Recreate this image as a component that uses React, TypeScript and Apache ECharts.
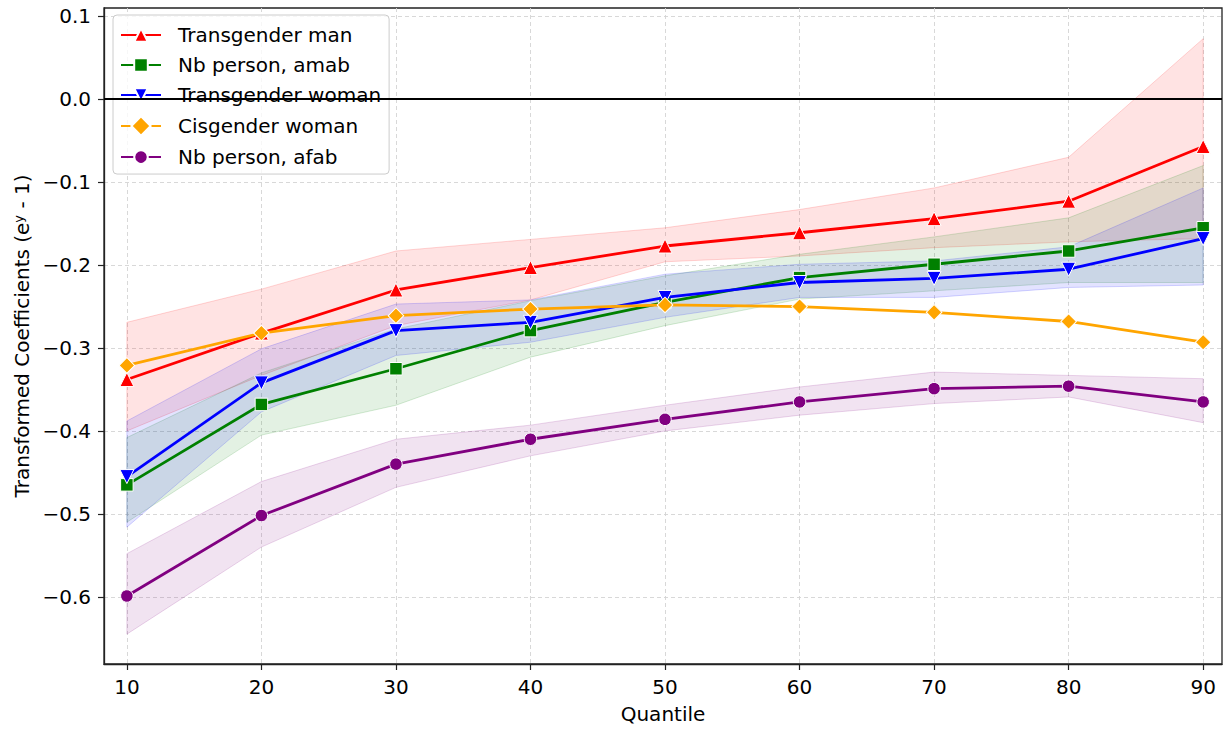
import React, { useEffect, useRef } from "react";
import * as echarts from "echarts";

const quantiles = [10, 20, 30, 40, 50, 60, 70, 80, 90];
const xTicks = [10, 20, 30, 40, 50, 60, 70, 80, 90];
const yTicks = [-0.6, -0.5, -0.4, -0.3, -0.2, -0.1, 0.0, 0.1];

const seriesNames = [
  "Transgender man",
  "Nb person, amab",
  "Transgender woman",
  "Cisgender woman",
  "Nb person, afab",
];

const transMan = [-0.338, -0.282, -0.23, -0.203, -0.177, -0.161, -0.144, -0.123, -0.057];
const nbAmab = [-0.465, -0.368, -0.325, -0.279, -0.245, -0.215, -0.199, -0.183, -0.155];
const transWoman = [-0.455, -0.342, -0.279, -0.269, -0.239, -0.221, -0.216, -0.205, -0.168];
const cisWoman = [-0.321, -0.282, -0.261, -0.253, -0.248, -0.25, -0.257, -0.268, -0.293];
const nbAfab = [-0.599, -0.502, -0.44, -0.41, -0.386, -0.365, -0.349, -0.346, -0.365];

const transManLo = [-0.4, -0.333, -0.273, -0.242, -0.196, -0.189, -0.179, -0.172, -0.168];
const transManHi = [-0.269, -0.229, -0.183, -0.169, -0.155, -0.133, -0.107, -0.07, 0.073];
const nbAmabLo = [-0.51, -0.405, -0.369, -0.311, -0.273, -0.241, -0.231, -0.221, -0.221];
const nbAmabHi = [-0.408, -0.33, -0.277, -0.243, -0.213, -0.187, -0.166, -0.143, -0.08];
const transWomanLo = [-0.516, -0.377, -0.309, -0.293, -0.263, -0.239, -0.239, -0.227, -0.224];
const transWomanHi = [-0.388, -0.301, -0.247, -0.242, -0.211, -0.199, -0.195, -0.178, -0.107];
const nbAfabLo = [-0.645, -0.54, -0.468, -0.43, -0.4, -0.381, -0.367, -0.359, -0.39];
const nbAfabHi = [-0.548, -0.461, -0.41, -0.393, -0.369, -0.347, -0.329, -0.333, -0.337];

const FONT = "DejaVu Sans";
const FS = 20;

function rgba(hex: string, a: number) {
  const n = parseInt(hex.slice(1), 16);
  return `rgba(${(n >> 16) & 255},${(n >> 8) & 255},${n & 255},${a})`;
}

export default function App() {
  const ref = useRef<HTMLDivElement>(null);
  useEffect(() => {
    document.body.style.margin = "0";
    const chart = echarts.init(ref.current!, undefined, { renderer: "svg" });

    const lines = [
      { name: seriesNames[0], data: transMan, color: "#ff0000", symbol: "triangle", size: 14, rot: 0 },
      { name: seriesNames[1], data: nbAmab, color: "#008000", symbol: "rect", size: 12.5, rot: 0 },
      { name: seriesNames[2], data: transWoman, color: "#0000ff", symbol: "triangle", size: 14, rot: 180 },
      { name: seriesNames[3], data: cisWoman, color: "#ffa500", symbol: "rect", size: 11, rot: 45 },
      { name: seriesNames[4], data: nbAfab, color: "#800080", symbol: "circle", size: 12.5, rot: 0 },
    ];
    const bands = [
      { key: "tm", lo: transManLo, hi: transManHi, color: "#ff0000" },
      { key: "am", lo: nbAmabLo, hi: nbAmabHi, color: "#008000" },
      { key: "tw", lo: transWomanLo, hi: transWomanHi, color: "#0000ff" },
      { key: "af", lo: nbAfabLo, hi: nbAfabHi, color: "#800080" },
    ];

    const series: any[] = [];
    bands.forEach((b, bi) => {
      series.push({
        type: "custom",
        name: "band-" + b.key,
        data: quantiles.map((q, i) => [q, b.lo[i], b.hi[i]]),
        encode: { x: 0, y: [1, 2] },
        silent: true,
        z: 1 + bi * 0.01,
        renderItem: (params: any, api: any) => {
          if (params.dataIndex !== 0) return { type: "group", children: [] };
          const top = quantiles.map((q, i) => api.coord([q, b.hi[i]]));
          const bot = quantiles.map((q, i) => api.coord([q, b.lo[i]])).reverse();
          return {
            type: "polygon",
            shape: { points: top.concat(bot) },
            style: { fill: rgba(b.color, 0.11), stroke: rgba(b.color, 0.16), lineWidth: 1 },
          };
        },
      });
    });
    lines.forEach((l, li) => {
      series.push({
        type: "line",
        name: l.name,
        data: quantiles.map((q, i) => [q, l.data[i]]),
        symbol: l.symbol,
        symbolSize: l.size,
        symbolRotate: l.rot,
        showAllSymbol: true,
        lineStyle: { width: 2.8, color: l.color },
        itemStyle: { color: l.color, borderColor: "#ffffff", borderWidth: 1 },
        z: 3 + li * 0.01,
        markLine:
          li === 0
            ? {
                silent: true,
                symbol: "none",
                label: { show: false },
                lineStyle: { color: "#000000", width: 2, type: "solid" },
                data: [{ yAxis: 0 }],
              }
            : undefined,
      });
    });

    chart.setOption({
      animation: false,
      textStyle: { fontFamily: FONT },
      grid: {
        left: 104,
        right: 4,
        top: 8,
        bottom: 65,
        outerBoundsMode: "none",
        containLabel: false,
        show: true,
        borderColor: "#222222",
        borderWidth: 1.3,
        backgroundColor: "transparent",
      },
      legend: {
        data: seriesNames,
        orient: "vertical",
        left: 113,
        top: 15,
        padding: [10, 8, 7, 7],
        itemGap: 10,
        itemWidth: 40,
        itemHeight: 17,
        backgroundColor: "rgba(255,255,255,0.8)",
        borderColor: "#cccccc",
        borderWidth: 1,
        borderRadius: 4,
        textStyle: { fontFamily: FONT, fontSize: FS, color: "#000", padding: [0, 0, 0, 12], lineHeight: 20 },
      },
      xAxis: {
        type: "value",
        min: 8.3,
        max: 91.4,
        splitNumber: 8,
        name: "Quantile",
        nameLocation: "middle",
        nameGap: 40,
        nameTextStyle: { fontFamily: FONT, fontSize: FS, color: "#000" },
        axisLine: { onZero: false, show: true, lineStyle: { color: "#222", width: 1.3 } },
        axisTick: { show: true, customValues: xTicks, length: 6, lineStyle: { color: "#222", width: 1.2 } },
        axisLabel: {
          customValues: xTicks,
          margin: 13,
          fontFamily: FONT,
          fontSize: FS,
          color: "#000",
          formatter: (v: number) => String(v),
        },
        splitLine: { show: true, lineStyle: { color: "#d4d4d4", type: [4, 3], width: 0.9 } },
      },
      yAxis: {
        type: "value",
        min: -0.681,
        max: 0.11,
        splitNumber: 8,
        name: "Transformed Coefficients (e{sup|y} - 1)",
        nameLocation: "middle",
        nameGap: 72,
        nameRotate: 90,
        nameTextStyle: {
          fontFamily: FONT,
          fontSize: FS,
          color: "#000",
          rich: {
            sup: { fontFamily: FONT, fontSize: 13, color: "#000", verticalAlign: "top", padding: [0, 0, 6, 0] },
          },
        },
        axisLine: { show: true, lineStyle: { color: "#222", width: 1.3 } },
        axisTick: { show: true, customValues: yTicks, length: 6, lineStyle: { color: "#222", width: 1.2 } },
        axisLabel: {
          customValues: yTicks,
          margin: 13,
          fontFamily: FONT,
          fontSize: FS,
          color: "#000",
          formatter: (v: number) => {
            const r = Math.round(v * 10) / 10;
            return r < 0 ? "\u2212" + Math.abs(r).toFixed(1) : r.toFixed(1);
          },
        },
        splitLine: { show: true, lineStyle: { color: "#d4d4d4", type: [4, 3], width: 0.9 } },
      },
      series,
    });
    return () => chart.dispose();
  }, []);
  return <div ref={ref} style={{ width: 1226, height: 729 }} />;
}
